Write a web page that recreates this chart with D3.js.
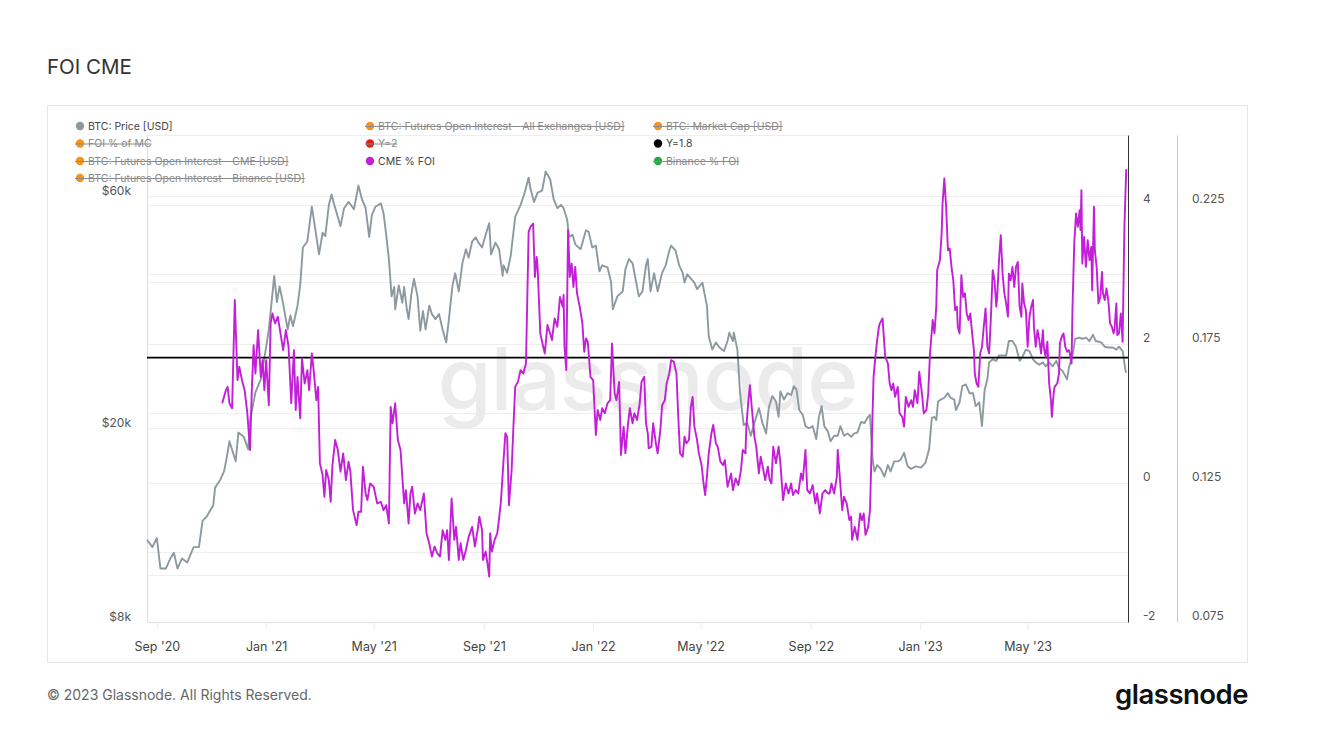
<!DOCTYPE html>
<html><head><meta charset="utf-8">
<script src="https://cdn.jsdelivr.net/npm/d3@7"></script>
<style>body{margin:0;background:#fff;font-family:Inter,"Noto Sans",sans-serif}</style>
</head><body><svg id="c" width="1328" height="741"></svg>
<script>
// ---- DATA (days are offsets from 2020-09-01) ----
const baseDate = "2020-09-01";
const priceDay = [-11,-5,0,4,10,15,19,23,28,34,41,47,51,56,60,63,65,71,75,78,81,88,91,97,102,104,110,116,121,125,131,134,137,141,146,149,152,157,160,163,168,173,177,181,185,188,192,195,198,205,209,214,220,225,229,233,237,240,244,250,253,256,259,262,265,266,270,274,276,279,281,284,287,291,294,297,300,304,307,311,315,319,323,326,330,333,337,341,345,348,352,356,359,363,367,371,373,378,382,386,387,391,395,400,406,410,415,417,421,425,430,434,439,443,447,451,454,458,460,464,467,473,479,482,486,490,494,497,503,507,509,514,520,523,527,531,535,538,542,546,548,551,555,559,564,568,572,574,579,583,587,589,592,596,600,603,609,611,614,616,620,624,628,633,637,639,643,644,648,651,655,659,663,667,672,676,680,683,687,691,694,696,700,704,708,711,714,717,721,724,728,732,736,739,742,745,749,752,756,760,763,767,771,775,778,782,786,790,793,796,799,801,804,808,812,816,819,823,827,830,834,838,842,847,853,858,862,865,868,870,872,875,879,883,886,890,892,896,899,903,907,911,914,918,921,924,927,929,933,937,940,944,948,951,955,959,963,966,970,974,978,981,985,989,992,996,1000,1004,1007,1011,1016,1018,1022,1025,1030,1033,1037,1041,1045,1048,1054,1058,1061,1067,1071,1074,1078,1081,1082];
const priceK = [11.8,11.4,11.9,10.3,10.3,10.8,11.1,10.3,10.8,10.6,11.4,11.4,12.9,13.2,13.6,13.9,15.1,15.7,16.3,17.4,18.8,17.1,19.6,19.2,18.1,20.7,23.7,25.2,28.6,31.9,41.1,36.3,39.1,36.0,31.9,34.1,32.4,35.7,39.3,47.0,48.4,57.0,51.0,45.5,50.4,49.6,57.5,60.4,57.5,52.0,56.6,58.3,56.3,63.0,59.0,56.7,49.4,54.8,57.0,57.9,55.3,49.9,44.5,37.3,39.0,35.1,39.3,36.2,39.0,35.1,33.5,37.6,40.5,37.3,31.7,34.8,31.9,35.7,34.3,33.5,34.3,31.9,30.0,33.5,39.3,41.6,38.2,43.6,46.6,44.8,48.4,49.3,48.1,47.0,49.9,52.7,45.5,48.1,46.6,41.1,43.2,41.7,45.2,54.3,57.5,60.4,65.4,62.1,58.3,60.9,61.5,67.3,64.9,59.0,56.6,57.5,56.6,53.6,49.4,49.9,47.7,46.6,51.0,50.6,47.0,47.4,42.0,43.2,42.8,39.9,35.1,37.3,38.2,42.4,44.5,43.6,39.9,37.3,38.2,43.2,44.5,38.2,41.6,38.2,41.7,43.2,46.3,47.4,46.3,43.2,41.7,39.8,41.4,40.6,39.8,38.6,39.8,38.0,35.7,30.9,29.0,30.0,29.3,28.8,30.2,31.4,30.2,31.4,29.0,23.6,20.3,20.5,19.3,20.5,22.0,20.5,19.5,22.0,23.3,22.7,21.1,23.8,22.9,23.6,23.4,24.4,24.0,21.8,21.3,20.2,20.0,20.2,19.0,21.1,22.2,20.2,19.7,18.8,19.3,19.3,20.2,19.3,19.5,19.2,19.5,19.6,20.6,20.5,21.0,21.3,17.2,16.3,16.8,16.5,15.9,16.8,16.3,17.1,17.1,17.2,17.8,16.7,16.5,16.7,16.6,17.0,18.1,21.0,21.1,20.8,22.7,22.9,23.1,23.6,23.1,22.9,21.8,22.6,24.4,24.6,23.6,23.6,22.2,22.6,20.2,24.0,25.2,27.3,27.7,27.5,28.2,28.2,28.2,30.2,30.2,29.4,27.5,28.0,29.0,28.8,27.7,27.3,27.0,27.3,26.8,27.3,26.8,27.5,26.6,26.2,25.2,26.6,28.2,30.5,30.7,30.5,30.7,30.2,31.1,30.2,30.0,29.4,29.3,29.3,29.0,29.4,28.8,26.4,26.0];
const cmeDay = [73,77,79,81,84,87,90,92,95,98,101,104,106,108,110,113,116,118,120,122,125,127,129,132,135,138,141,144,147,150,153,155,157,160,162,165,168,170,173,175,178,180,182,185,187,189,192,194,196,199,202,205,208,211,214,216,219,223,225,228,230,233,235,238,242,246,250,253,256,259,261,263,266,269,272,276,278,281,283,285,288,291,294,298,301,304,307,310,313,316,319,322,324,326,329,332,334,337,339,342,345,348,352,355,358,360,363,364,367,369,371,372,374,377,380,382,384,387,389,391,393,396,398,400,403,406,409,412,415,417,420,422,424,425,428,430,433,436,439,441,444,447,450,453,454,455,457,459,461,463,465,467,469,472,475,477,479,481,484,487,490,492,495,497,500,503,506,508,511,513,516,518,521,523,526,528,531,533,536,539,541,544,546,548,549,552,554,557,559,562,564,567,569,572,574,577,580,582,584,587,589,591,594,596,598,600,603,605,608,610,612,614,616,619,621,624,626,629,632,634,637,641,643,646,649,652,654,657,658,660,662,664,667,669,672,674,677,679,682,684,686,688,691,694,696,699,702,705,708,710,713,716,719,721,724,726,729,732,735,737,740,743,746,749,751,753,756,759,760,762,765,767,770,773,775,776,779,782,785,787,789,791,794,796,798,800,802,804,806,807,810,813,816,818,820,822,824,827,829,832,834,836,839,842,844,846,849,851,854,856,859,861,863,866,868,870,871,874,876,877,879,881,883,885,887,889,891,893,894,896,898,900,902,904,906,908,910,912,913,915,917,919,921,923,925,927,929,931,933,935,937,938,940,942,944,946,948,950,951,953,955,957,959,961,963,965,966,968,970,972,974,976,978,979,981,983,985,987,989,990,992,994,996,998,999,1001,1002,1005,1007,1008,1010,1012,1014,1016,1018,1019,1021,1022,1024,1026,1028,1030,1031,1032,1033,1035,1037,1039,1041,1043,1044,1046,1047,1049,1051,1053,1055,1056,1058,1060,1062,1064,1066,1068,1069,1071,1072,1074,1076,1078,1080,1082,1083];
const cmeShare = [.1536,.1583,.1595,.1536,.1518,.1907,.1619,.1667,.1619,.1583,.1500,.1368,.1583,.1745,.1643,.1799,.1631,.1691,.1583,.1691,.1529,.1823,.1859,.1823,.1847,.1787,.1727,.1799,.1739,.1536,.1727,.1512,.1631,.1482,.1697,.1607,.1655,.1583,.1715,.1655,.1547,.1595,.1320,.1278,.1200,.1296,.1260,.1182,.1314,.1404,.1368,.1290,.1356,.1260,.1326,.1290,.1152,.1098,.1146,.1146,.1308,.1212,.1188,.1248,.1236,.1176,.1182,.1152,.1170,.1104,.1523,.1464,.1536,.1404,.1368,.1176,.1224,.1104,.1212,.1236,.1140,.1176,.1152,.1212,.1069,.1033,.0985,.1021,.0997,.0985,.1080,.1045,.1080,.0973,.1194,.1045,.1092,.0973,.1033,.0973,.1009,.1056,.1092,.1021,.1080,.1128,.1080,.0973,.1003,.0961,.0913,.1069,.1003,.1045,.1069,.1122,.1182,.1332,.1428,.1416,.1170,.1296,.1452,.1595,.1613,.1655,.1643,.1679,.2152,.2170,.2182,.1990,.2062,.2026,.1787,.1757,.1715,.1817,.1787,.1763,.1841,.1811,.1918,.1883,.1925,.1739,.1655,.2158,.1990,.2038,.1954,.2026,.1931,.1883,.1823,.1721,.1769,.1757,.1631,.1619,.1422,.1512,.1476,.1518,.1500,.1536,.1547,.1751,.1571,.1547,.1613,.1350,.1452,.1356,.1464,.1518,.1464,.1500,.1476,.1536,.1613,.1631,.1464,.1428,.1374,.1380,.1464,.1392,.1356,.1440,.1529,.1547,.1607,.1643,.1691,.1685,.1643,.1487,.1356,.1344,.1416,.1392,.1404,.1523,.1559,.1452,.1404,.1356,.1314,.1254,.1206,.1272,.1356,.1428,.1458,.1392,.1380,.1326,.1314,.1332,.1236,.1284,.1224,.1266,.1242,.1296,.1368,.1356,.1452,.1536,.1601,.1523,.1416,.1380,.1284,.1344,.1296,.1260,.1308,.1260,.1248,.1380,.1320,.1380,.1320,.1188,.1248,.1212,.1248,.1206,.1224,.1212,.1284,.1260,.1368,.1224,.1212,.1242,.1176,.1212,.1140,.1212,.1224,.1212,.1212,.1248,.1212,.1272,.1368,.1284,.1152,.1200,.1176,.1116,.1128,.1045,.1092,.1045,.1140,.1116,.1140,.1063,.1092,.1152,.1392,.1631,.1703,.1763,.1811,.1823,.1841,.1703,.1679,.1607,.1583,.1607,.1559,.1595,.1500,.1487,.1452,.1559,.1523,.1547,.1523,.1583,.1536,.1649,.1571,.1500,.1512,.1571,.1715,.1835,.1787,.1883,.2014,.2050,.2146,.2254,.2344,.2242,.2086,.2092,.2026,.1978,.1871,.1883,.1811,.1787,.1996,.1918,.1931,.1859,.1835,.1859,.1787,.1727,.1643,.1607,.1595,.1715,.1739,.1811,.1877,.1739,.1715,.1847,.2014,.1978,.1883,.1918,.2050,.2140,.2002,.1931,.1895,.1847,.2002,.1978,.2026,.1954,.2026,.2044,.1883,.1847,.1967,.1895,.1871,.1739,.1847,.1883,.1907,.1811,.1739,.1799,.1763,.1715,.1799,.1739,.1703,.1757,.1607,.1547,.1487,.1571,.1595,.1607,.1643,.1751,.1775,.1787,.1739,.1721,.1727,.1715,.1679,.1871,.2110,.2218,.2170,.2230,.2158,.2302,.2038,.2134,.2026,.2122,.2050,.2098,.1942,.2242,.2086,.2026,.1895,.1918,.2008,.1931,.1907,.1949,.1907,.1823,.1811,.1787,.1805,.1895,.1781,.1787,.1859,.1757,.2170,.2374,.2374];
const refLevel = 1.8;
const xDomain = ["2020-08-21", "2023-08-21"];
const xTickDates = ["2020-09-01","2021-01-01","2021-05-01","2021-09-01","2022-01-01","2022-05-01","2022-09-01","2023-01-01","2023-05-01"];
const xTickLabels = ["Sep '20","Jan '21","May '21","Sep '21","Jan '22","May '22","Sep '22","Jan '23","May '23"];
const priceTicks = [8, 20, 60];
const priceGrid = [10, 20, 40, 60];
const rightTicks = [-2, 0, 2, 4];
const rightGrid = [-1, 0, 1, 2, 3, 4, 5];
const shareTicks = [0.075, 0.125, 0.175, 0.225];
const legendItems = [
  {label:"BTC: Price [USD]", color:"#8c9a9f", hidden:false},
  {label:"BTC: Futures Open Interest - All Exchanges [USD]", color:"#f7931a", hidden:true},
  {label:"BTC: Market Cap [USD]", color:"#f7931a", hidden:true},
  {label:"FOI % of MC", color:"#f7931a", hidden:true},
  {label:"Y=2", color:"#e0201c", hidden:true},
  {label:"Y=1.8", color:"#000000", hidden:false},
  {label:"BTC: Futures Open Interest - CME [USD]", color:"#f7931a", hidden:true},
  {label:"CME % FOI", color:"#c31fd8", hidden:false},
  {label:"Binance % FOI", color:"#2aa745", hidden:true},
  {label:"BTC: Futures Open Interest - Binance [USD]", color:"#f7931a", hidden:true}
];

// ---- DRAW ----
const svg = d3.select("#c");
const L = 147, R = 1128, T = 135, B = 622;
const base = new Date(baseDate + "T00:00:00Z").getTime();
const dayDate = d => new Date(base + d * 864e5);

const x = d3.scaleUtc().domain(xDomain.map(s => new Date(s + "T00:00:00Z"))).range([L, R]);
const yP = d3.scaleLog().domain([8, 80]).range([B, T]);
const yR = d3.scaleLinear().domain([-2, 5]).range([B, T]);
const yC = d3.scaleLinear().domain([0.075, 0.25]).range([B, T]);

svg.append("text").attr("x", 47).attr("y", 74).attr("font-size", 20.5).attr("fill", "#333").text("FOI CME");
svg.append("rect").attr("x", 47.5).attr("y", 105.5).attr("width", 1200).attr("height", 557)
  .attr("fill", "none").attr("stroke", "#e7e7e7");

// grid
const grid = svg.append("g").attr("stroke", "#eeeeee").attr("stroke-width", 1);
priceGrid.forEach(v => grid.append("line").attr("x1", L).attr("x2", R).attr("y1", Math.round(yP(v)) + 0.5).attr("y2", Math.round(yP(v)) + 0.5));
rightGrid.forEach(v => grid.append("line").attr("x1", L).attr("x2", R).attr("y1", Math.round(yR(v)) + 0.5).attr("y2", Math.round(yR(v)) + 0.5));

// watermark
svg.append("text").attr("x", (L + R) / 2 + 10).attr("y", 410).attr("text-anchor", "middle")
  .attr("font-size", 87).attr("font-weight", 500).attr("fill", "#ebebeb").attr("letter-spacing", -1).text("glassnode");

// left axis
const gl = svg.append("g").attr("transform", `translate(${L},0)`)
  .call(d3.axisLeft(yP).tickValues(priceTicks).tickFormat(d => `$${d}k`).tickSize(0).tickPadding(16));
gl.select(".domain").attr("stroke", "#dddddd");
gl.selectAll("text").attr("font-family", "Inter").attr("font-size", 12).attr("fill", "#555").attr("dy", "-0.12em");

// bottom axis
const gb = svg.append("g").attr("transform", `translate(0,${B})`)
  .call(d3.axisBottom(x).tickValues(xTickDates.map(s => new Date(s + "T00:00:00Z")))
    .tickFormat((d, i) => xTickLabels[i]).tickSize(8).tickSizeOuter(0).tickPadding(12));
gb.select(".domain").attr("stroke", "#e3e3e3");
gb.selectAll(".tick line").attr("stroke", "#ececec");
gb.selectAll("text").attr("font-family", "Inter").attr("font-size", 12.5).attr("fill", "#444");

// right axis (-2..5)
const gr = svg.append("g").attr("transform", `translate(${R},0)`)
  .call(d3.axisRight(yR).tickValues(rightTicks).tickFormat(d => String(d)).tickSize(0).tickSizeOuter(0).tickPadding(15));
gr.select(".domain").attr("stroke", "#333");
gr.selectAll("text").attr("font-family", "Inter").attr("font-size", 12).attr("fill", "#555").attr("dy", "-0.18em");

// share axis
const gc = svg.append("g").attr("transform", `translate(1177,0)`)
  .call(d3.axisRight(yC).tickValues(shareTicks).tickFormat(d3.format(".3f")).tickSize(0).tickSizeOuter(0).tickPadding(15));
gc.select(".domain").attr("stroke", "#e0b8e8");
gc.selectAll("text").attr("font-family", "Inter").attr("font-size", 12).attr("fill", "#555").attr("dy", "-0.18em");

// series
const priceData = priceDay.map((d, i) => [dayDate(d), priceK[i]]);
const shareData = cmeDay.map((d, i) => [dayDate(d), cmeShare[i]]);
svg.append("path").datum(priceData).attr("fill", "none").attr("stroke", "#8c9a9f").attr("stroke-width", 1.9)
  .attr("stroke-linejoin", "round").attr("d", d3.line().x(d => x(d[0])).y(d => yP(d[1])));
svg.append("path").datum(x.domain().map(d => [d, refLevel])).attr("fill", "none").attr("stroke", "#000").attr("stroke-width", 1.6)
  .attr("d", d3.line().x(d => x(d[0])).y(d => yR(d[1])));
svg.append("path").datum(shareData).attr("fill", "none").attr("stroke", "#c31fd8").attr("stroke-width", 1.9)
  .attr("stroke-linejoin", "round").attr("d", d3.line().x(d => x(d[0])).y(d => yC(d[1])));

// legend
const colX = [80, 370, 658], rowY = [126, 143.5, 161, 178];
legendItems.forEach((it, i) => {
  const cx = colX[i % 3], cy = rowY[Math.floor(i / 3)];
  const g = svg.append("g");
  g.append("circle").attr("cx", cx).attr("cy", cy).attr("r", 4.2).attr("fill", it.color);
  const t = g.append("text").attr("x", cx + 8).attr("y", cy).attr("dy", "0.35em")
    .attr("font-size", 10.5).attr("fill", it.hidden ? "#8a8a8a" : "#444").text(it.label);
  if (it.hidden) {
    const w = t.node().getComputedTextLength();
    g.append("line").attr("x1", cx - 5).attr("x2", cx + 8 + w).attr("y1", cy + 0.5).attr("y2", cy + 0.5)
      .attr("stroke", "#8a8a8a").attr("stroke-width", 1);
  }
});

// footer
svg.append("text").attr("x", 47).attr("y", 700).attr("font-size", 14).attr("fill", "#666")
  .text("© 2023 Glassnode. All Rights Reserved.");
svg.append("text").attr("x", 1248).attr("y", 704).attr("text-anchor", "end").attr("font-size", 27.5)
  .attr("font-weight", 600).attr("letter-spacing", -0.5).attr("fill", "#111").text("glassnode");
</script></body></html>
